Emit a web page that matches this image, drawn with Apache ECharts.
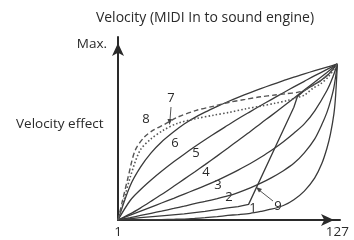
<!DOCTYPE html>
<html><head><meta charset="utf-8">
<script src="https://cdn.jsdelivr.net/npm/echarts@6/dist/echarts.min.js"></script>
<style>html,body{margin:0;padding:0;background:#fff}#c{width:354px;height:240px}</style>
</head><body><div id="c"></div>
<script>
// sampled input velocities (1..127)
const velocities = [1, 8, 14, 20, 26, 33, 39, 45, 51, 58, 64, 70, 77, 83, 89, 96, 102, 108, 114, 121, 127];
// velocity effect (% of max) read at those velocities
const curve1 = [0, 0.05, 0.1, 0.2, 0.3, 0.45, 0.6, 1, 1.5, 2.2, 2.9, 3.5, 4.3, 5.5, 6.9, 9.3, 13, 18.5, 27, 46, 100];
const curve2 = [0, 1.5, 2.9, 4.3, 5.7, 7.4, 8.9, 10.5, 11.9, 13.7, 15.4, 17.6, 20.6, 23.6, 27, 31.6, 36.3, 43, 52, 69, 100];
const curve3 = [0, 3.1, 5.7, 8.3, 10.9, 13.9, 16.6, 19.3, 22, 25.4, 28.6, 32, 36.2, 40.2, 44.5, 50.2, 55.6, 61.6, 70, 83, 100];
const curve4 = [0, 3.9, 7.8, 12, 16.3, 21.6, 26.2, 30.8, 35.5, 41.1, 46, 51, 56.7, 61.9, 66.9, 72.9, 78.1, 83.3, 88.5, 94.6, 100];
const curve5 = [0, 12.5, 19.5, 25.6, 31.2, 37.3, 42.2, 46.9, 51.4, 56.5, 60.7, 64.9, 69.5, 73.4, 77.2, 81.6, 85.3, 88.9, 92.5, 96.5, 100];
const curve6 = [0, 22, 34, 43, 50, 56.5, 61.5, 65.6, 69.1, 72.8, 75.8, 78.6, 81.7, 84.2, 86.6, 89.3, 91.6, 93.7, 95.7, 98, 100];
// extra readings where curves 1-3 turn steeply up into the top-right corner
const curve1End = [[118, 36], [121, 46], [123, 55], [125, 68], [126, 80], [127, 100]];
const curve2End = [[118, 61], [121, 69], [123, 76], [125, 85], [127, 100]];
const curve3End = [[121, 83], [124, 90.5], [127, 100]];
// curve 7 (dotted) and 8 (dashed): [velocity, effect %]
const curve7 = [[1,0],[4.2,12],[7.9,27],[13.6,44.5],[20,52],[27,57.5],[35,61.9],[46,65],[56,67.2],[65,69],[74,71.2],[83,73],[91,74.8],[98,76.5],[104,78.5],[108,80],[113,84.5],[117,87],[122,92],[127,100]];
const curve8 = [[1,0],[3.5,12],[6.7,27],[10.8,44.5],[16,53],[21,57.4],[28,61.5],[35,65.8],[46,70.3],[56,73],[65,75.5],[74,77.3],[83,79],[91,80.1],[98,81],[104,81.8],[108,83],[113,86.4],[117,89],[122,93.5],[127,100]];
// curve 9: low, then a straight rise, then joins the upper curves
const curve9 = [[1,0],[14,1.5],[26,2.7],[39,3.9],[51,5.5],[64,7.8],[70,8.6],[76,10],[102,72.3],[104,79],[108,83],[117,89],[122,93.5],[127,100]];
const xTickValues = [1, 127];
const xTickLabels = ['1', '127'];
const yMaxLabel = 'Max.';

const FONT = '"Open Sans", "Noto Sans", sans-serif';
const INK = '#2a2a2a';
const LINE = '#3a3a3a';

function pairs(ys, end) {
  const pts = velocities.map((v, i) => [v, ys[i]]);
  if (end) { while (pts.length && pts[pts.length - 1][0] >= end[0][0]) pts.pop(); pts.push(...end); }
  return pts;
}
function solid(data, smooth) {
  return {type:'line', data, symbol:'none', smooth: smooth, silent:true,
    lineStyle:{color:LINE, width:1.3}};
}
const chart = echarts.init(document.getElementById('c'), null, {renderer:'canvas'});
chart.setOption({
  animation:false,
  backgroundColor:'#fff',
  title:[
    {text:'Velocity (MIDI In to sound engine)', left:200, top:6, textAlign:'center',
     textStyle:{fontFamily:FONT, fontSize:14, fontWeight:'normal', color:INK}},
    {text:'Velocity effect', left:11, top:112,
     textStyle:{fontFamily:FONT, fontSize:13.5, fontWeight:'normal', color:INK}}
  ],
  grid:{left:118, right:14, top:37, bottom:20, containLabel:false},
  xAxis:{type:'value', min:1, max:128.5,
    axisLine:{lineStyle:{color:INK, width:2}, symbol:['none','arrow'], symbolSize:[9,13], symbolOffset:[0,-6]},
    axisTick:{show:false}, splitLine:{show:false},
    axisLabel:{customValues:xTickValues, formatter:(v)=>xTickLabels[xTickValues.indexOf(v)] ?? '',
      fontFamily:FONT, fontSize:13.5, color:INK, margin:5}},
  yAxis:{type:'value', min:0, max:117.3,
    axisLine:{show:true, lineStyle:{color:INK, width:2}, symbol:['none','arrow'], symbolSize:[9,13], symbolOffset:[0,-6]},
    axisTick:{show:false}, splitLine:{show:false},
    axisLabel:{customValues:[113], formatter:()=>yMaxLabel, fontFamily:FONT, fontSize:13.5, color:INK, margin:11}},
  series:[
    solid(pairs(curve1, curve1End), 0.25), solid(pairs(curve2, curve2End), 0.25),
    solid(pairs(curve3, curve3End), 0.3), solid(pairs(curve4), 0.3),
    solid(pairs(curve5), 0.3), solid(pairs(curve6), 0.3), solid(curve9, false),
    {type:'line', data:curve7, symbol:'none', smooth:0.3, silent:true,
      lineStyle:{color:'#555', width:1.6, type:[1.5,2.2]}},
    {type:'line', data:curve8, symbol:'none', smooth:0.3, silent:true,
      lineStyle:{color:'#555', width:1.4, type:[5,3]}}
  ],
  graphic:[
    ...[['7',171,98],['8',146,119],['6',175,143],['5',196,153],['4',206,172],['3',218,185],['2',229,197],['1',253,208],['9',278,206]]
      .map(([t,x,y])=>({type:'text', x:x, y:y, style:{text:t, fill:INK, font:'13px '+FONT, align:'center', verticalAlign:'middle', textAlign:'center', textVerticalAlign:'middle'}})),
    {type:'line', shape:{x1:171,y1:107,x2:170,y2:120}, style:{stroke:'#555', lineWidth:1}},
    {type:'polygon', shape:{points:[[167.5,119],[172,119],[169.5,125]]}, style:{fill:'#444'}},
    {type:'line', shape:{x1:273,y1:201,x2:259,y2:190}, style:{stroke:'#555', lineWidth:1}},
    {type:'polygon', shape:{points:[[256,187],[262,189],[259,192.5]]}, style:{fill:'#444'}}
  ]
});
</script></body></html>
